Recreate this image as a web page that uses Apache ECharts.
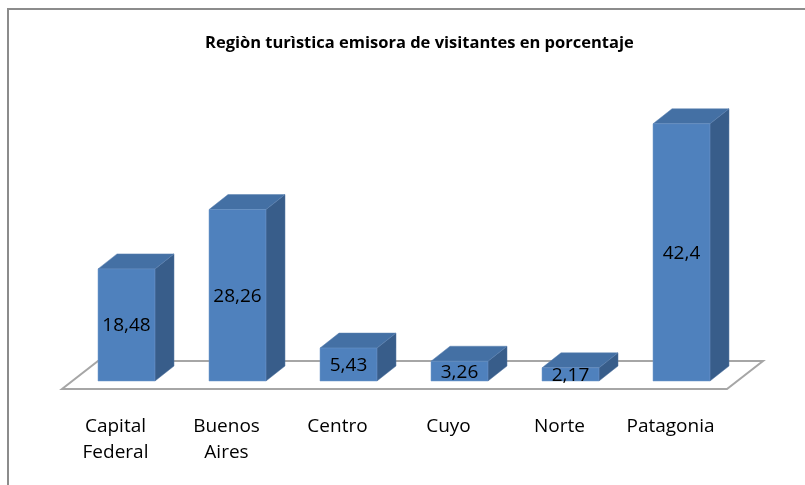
<!DOCTYPE html>
<html lang="es">
<head>
  <meta charset="UTF-8">
  <title>Región turística</title>
  <script src="https://cdn.jsdelivr.net/npm/echarts@6/dist/echarts.min.js"></script>
  <style>
    * { margin: 0; padding: 0; }
    body { background: #fff; }
    #main { width: 805px; height: 485px; }
  </style>
</head>
<body>
  <div id="main"></div>
  <script>
    // datos
    var categories = ['Capital\nFederal', 'Buenos\nAires', 'Centro', 'Cuyo', 'Norte', 'Patagonia'];
    var values = [18.48, 28.26, 5.43, 3.26, 2.17, 42.4];
    var valueLabels = ['18,48', '28,26', '5,43', '3,26', '2,17', '42,4'];

    var FONT = '"Open Sans", "Noto Sans", sans-serif';
    var frontColor = '#4F81BD';
    var sideColor = '#385D8A';
    var topColor = '#4470A4';

    // piso en perspectiva
    function renderFloor(params, api) {
      var cs = params.coordSys;
      var zero = api.coord([0, 0])[1];
      var yf = zero + 8, yb = zero - 20;
      var xl = cs.x - 9, xr = cs.x + cs.width - 10;
      var dx = 36;
      return {
        type: 'polygon',
        shape: { points: [[xl, yf], [xl + dx, yb], [xr + dx, yb], [xr, yf]] },
        style: { fill: '#fff', stroke: '#a6a6a6', lineWidth: 2 }
      };
    }

    // barra 3D: cara frontal, lateral y superior
    function renderBar(params, api) {
      var i = api.value(0);
      var v = api.value(1);
      var base = api.coord([i, 0]);
      var top = api.coord([i, v]);
      var w = api.size([1, 0])[0] * 0.513;
      var x0 = base[0] - w / 2, x1 = base[0] + w / 2;
      var yb = base[1], yt = top[1];
      var dx = 19, dy = -15;
      return {
        type: 'group',
        children: [
          { type: 'polygon', shape: { points: [[x1, yb], [x1 + dx, yb + dy], [x1 + dx, yt + dy], [x1, yt]] },
            style: { fill: sideColor, stroke: '#4a6f9c', lineWidth: 0.5 } },
          { type: 'polygon', shape: { points: [[x0, yt], [x0 + dx, yt + dy], [x1 + dx, yt + dy], [x1, yt]] },
            style: { fill: topColor, stroke: '#5a80b0', lineWidth: 0.5 } },
          { type: 'rect', shape: { x: x0, y: yt, width: w, height: yb - yt },
            style: { fill: frontColor, stroke: '#6a94c8', lineWidth: 0.5 } },
          { type: 'text', style: { text: valueLabels[i], x: base[0], y: (yb + yt) / 2 + 1,
            align: 'center', verticalAlign: 'middle', fill: '#000', font: '19px ' + FONT } }
        ]
      };
    }

    var chart = echarts.init(document.getElementById('main'));
    chart.setOption({
      animation: false,
      backgroundColor: '#fff',
      title: {
        text: 'Regiòn turìstica emisora de visitantes en porcentaje',
        left: 200,
        top: 30,
        textStyle: { fontFamily: FONT, fontSize: 16.5, fontWeight: 'bold', color: '#000' }
      },
      graphic: [
        { type: 'polyline', shape: { points: [[8, 485], [8, 9], [805, 9]] },
          style: { stroke: '#8c8c8c', lineWidth: 2, fill: null } }
      ],
      grid: { left: 71, right: 68, top: 108, bottom: 104 },
      xAxis: {
        type: 'category',
        data: categories,
        axisLine: { show: false },
        axisTick: { show: false },
        axisLabel: {
          interval: 0,
          margin: 33,
          padding: [0, 22, 0, 0],
          fontFamily: FONT,
          fontSize: 19,
          lineHeight: 26,
          color: '#000'
        }
      },
      yAxis: {
        type: 'value',
        min: 0,
        max: 45,
        show: false
      },
      series: [
        { type: 'custom', renderItem: renderFloor, data: [[0, 0]], silent: true, z: 1 },
        { type: 'custom', renderItem: renderBar, z: 2,
          data: values.map(function (v, i) { return [i, v]; }) }
      ]
    });
  </script>
</body>
</html>
